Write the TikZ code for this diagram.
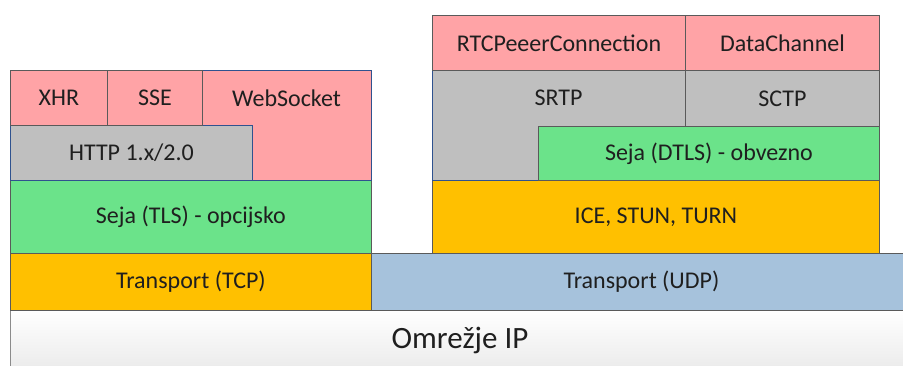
\documentclass[tikz,border=0pt]{standalone}
\usepackage{fontspec}
\setmainfont{Carlito}
\definecolor{appPink}{HTML}{FFA3A6}
\definecolor{sesGreen}{HTML}{6BE38A}
\definecolor{trOrange}{HTML}{FFC000}
\definecolor{udpBlue}{HTML}{A6C2DC}
\definecolor{protoGray}{HTML}{BFBFBF}
\definecolor{edgeGray}{HTML}{5A5A5A}
\definecolor{edgeBlue}{HTML}{2F528F}
\tikzset{
  layer/.style={draw=edgeGray, line width=0.9pt, anchor=north west,
    inner sep=0pt, font=\fontsize{24}{28}\selectfont, text=black!88},
  lbl/.style={inner sep=0pt, font=\fontsize{24}{28}\selectfont, text=black!88},
}
\begin{document}
\begin{tikzpicture}[x=1pt, y=-1pt]
\useasboundingbox (0,0) rectangle (903,365);

% network layer at the bottom
\node[layer, draw=edgeGray!70, top color=white, bottom color=black!8,
  minimum width=900pt, minimum height=60pt] (ip) at (10,310) {};
\node[lbl, font=\fontsize{31}{35}\selectfont] (iplbl) at (460,340) {Omrežje IP};

% transport layer
\node[layer, fill=trOrange, minimum width=361pt, minimum height=57pt] (tcp) at (10,253) {Transport (TCP)};
\node[layer, fill=udpBlue, minimum width=540pt, minimum height=57pt] (udp) at (371,253) {Transport (UDP)};

% left stack: HTTP based
\node[layer, fill=sesGreen, minimum width=361pt, minimum height=73pt] (tls) at (10,180) {Seja (TLS) - opcijsko};
\filldraw[fill=appPink, draw=edgeBlue, line width=0.9pt]
  (202,70) -- (371,70) -- (371,180) -- (252,180) -- (252,125) -- (202,125) -- cycle;
\node[lbl] (ws) at (286.5,98) {WebSocket};
\node[layer, fill=protoGray, draw=edgeBlue, minimum width=242pt, minimum height=55pt] (http) at (10,125) {HTTP 1.x/2.0};
\node[layer, fill=appPink, minimum width=97pt, minimum height=55pt] (xhr) at (10,70) {XHR};
\node[layer, fill=appPink, minimum width=95pt, minimum height=55pt] (sse) at (107,70) {SSE};

% right stack: WebRTC
\node[layer, fill=trOrange, minimum width=447pt, minimum height=73pt] (ice) at (432,180) {ICE, STUN, TURN};
\filldraw[fill=protoGray, draw=edgeBlue, line width=0.9pt]
  (432,70) -- (685,70) -- (685,126) -- (538,126) -- (538,180) -- (432,180) -- cycle;
\node[lbl] (srtp) at (558.5,98) {SRTP};
\node[layer, fill=protoGray, minimum width=194pt, minimum height=56pt] (sctp) at (685,70) {SCTP};
\node[layer, fill=sesGreen, minimum width=341pt, minimum height=54pt] (dtls) at (538,126) {Seja (DTLS) - obvezno};
\node[layer, fill=appPink, minimum width=253pt, minimum height=55pt] (rtc) at (432,15) {RTCPeeerConnection};
\node[layer, fill=appPink, minimum width=194pt, minimum height=55pt] (dc) at (685,15) {DataChannel};
\end{tikzpicture}
\end{document}
